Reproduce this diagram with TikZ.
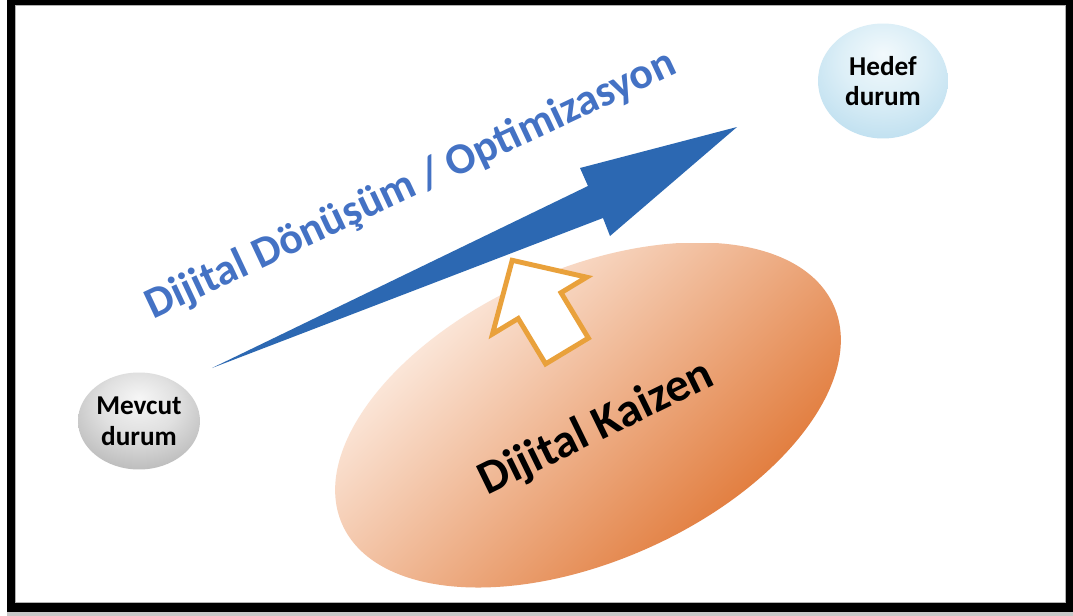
\documentclass[tikz,border=0pt]{standalone}
\usepackage{fontspec}
\setmainfont{Carlito}
\usetikzlibrary{shapes.geometric}

\definecolor{arrowBlue}{HTML}{2C68B2}
\definecolor{textBlue}{HTML}{4472C4}
\definecolor{outlineOrange}{HTML}{E9A13B}
\definecolor{kzLight}{HTML}{FFF6F0}
\definecolor{kzDark}{HTML}{DE6E28}
\definecolor{gA}{HTML}{F6F6F6}
\definecolor{gB}{HTML}{E0E0E0}
\definecolor{gC}{HTML}{BBBBBB}
\definecolor{gD}{HTML}{8C8C8C}
\definecolor{gE}{HTML}{686868}
\definecolor{bA}{HTML}{F2F9FC}
\definecolor{bB}{HTML}{DDEFF7}
\definecolor{bC}{HTML}{BCDEEF}
\definecolor{bD}{HTML}{9CCCE6}
\definecolor{bE}{HTML}{8AC2DF}

% soft ball shadings, lit from slightly above the centre
\pgfdeclareradialshading{greyball}{\pgfpoint{0bp}{12bp}}{%
  color(0bp)=(gA); color(16bp)=(gB); color(32bp)=(gC); color(48bp)=(gD); color(62bp)=(gE)}
\pgfdeclareradialshading{blueball}{\pgfpoint{0bp}{12bp}}{%
  color(0bp)=(bA); color(16bp)=(bB); color(34bp)=(bC); color(50bp)=(bD); color(62bp)=(bE)}

\tikzset{
  state/.style={ellipse, shade, inner sep=0pt, align=center,
    font=\bfseries\fontsize{15.5}{17.5}\selectfont},
  bigtext/.style={anchor=base, font=\bfseries\fontsize{25}{30}\selectfont},
}

\begin{document}
\begin{tikzpicture}[x=0.02cm, y=-0.02cm]
\useasboundingbox (0,0) rectangle (1073,616);

% page with black frame and a soft shadow underneath
\fill[white] (0,0) rectangle (1073,616);
\fill[black!22] (7,612) rectangle (1073,616);
\fill[black] (7,0) rectangle (1073,612);
\fill[black!30] (15,5) rectangle (1066,603);
\fill[white] (16,6) rectangle (1065,602);

% orange ellipse with diagonal gradient
\begin{scope}
  \clip[rotate around={24:(588,415)}] (588,415) ellipse [x radius=269, y radius=146];
  \shade[top color=kzLight, bottom color=kzDark, shading angle=44]
    (319,243) rectangle (857,587);
\end{scope}
\node[bigtext, rotate=26, font=\bfseries\fontsize{27}{32}\selectfont] (kaizen) at (602,440) {Dijital Kaizen};

% main tapered arrow
\fill[arrowBlue] (212,368) -- (603,218) -- (610,236) -- (737,127)
  -- (580,168) -- (588,186) -- cycle;

% hollow orange arrow
\draw[outlineOrange, fill=white, line width=2.8pt, line join=miter]
  (588.4,338.1) -- (561,292.7) -- (586.7,277.2) -- (512.2,260.3)
  -- (492.5,334) -- (518.2,318.5) -- (545.6,363.9) -- cycle;

% title along the arrow
\node[bigtext, rotate=25.2, text=textBlue] (title) at (416,196)
  {Dijital Dönüşüm / Optimizasyon};

% start and goal states
\node[state, shading=greyball, minimum width=2.44cm, minimum height=1.94cm]
  (mevcut) at (139,421) {Mevcut\\durum};
\node[state, shading=blueball, minimum width=2.6cm, minimum height=2.3cm]
  (hedef) at (883,81) {Hedef\\durum};
\end{tikzpicture}
\end{document}
